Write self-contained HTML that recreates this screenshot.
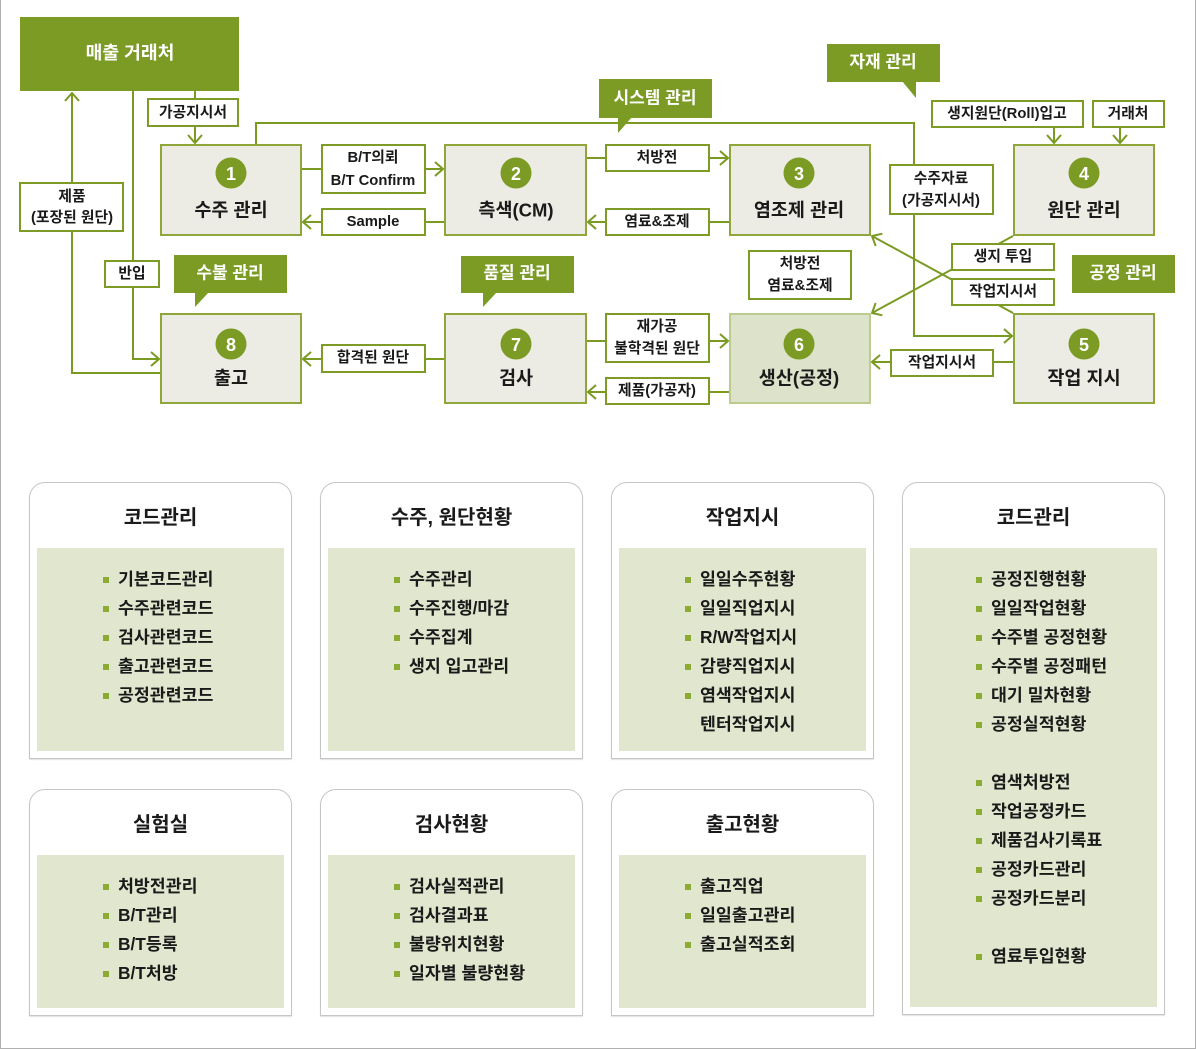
<!DOCTYPE html>
<html><head><meta charset="utf-8">
<style>
*{margin:0;padding:0;box-sizing:border-box}
html,body{width:1196px;height:1049px;background:#fff;overflow:hidden}
body{position:relative;font-family:"Liberation Sans","Noto Sans CJK KR",sans-serif;color:#222}
.frame{position:absolute;left:0;top:0;width:1196px;height:1049px;border-left:1px solid #b0b0b0;border-right:1px solid #b0b0b0;border-bottom:1px solid #b0b0b0}
svg.top{position:absolute;left:0;top:0}
.card{position:absolute;width:263px;border:1px solid #c6c6c6;border-radius:16px 16px 0 0;background:#fff;box-shadow:0 1px 1px #e2e2e2}
.card .t{position:absolute;left:0;top:22px;width:100%;text-align:center;font-size:20px;line-height:26px;font-weight:bold;color:#1a1a1a}
.card .g{position:absolute;left:7px;top:65px;width:247px;bottom:7px;background:#e1e6cf}
.card ul{list-style:none;padding-top:17px}
.card li{position:relative;height:29px;line-height:29px;padding-left:81px;font-size:17.3px;font-weight:bold;color:#1a1a1a;white-space:nowrap}
.card li.b:before{content:"";position:absolute;left:66px;top:12px;width:6px;height:6px;background:#8cab33}
</style></head><body>
<div class="frame"></div>
<svg class="top" width="1196" height="420" viewBox="0 0 1196 420" font-family="Liberation Sans, Noto Sans CJK KR, sans-serif" font-weight="bold">
<defs>
<marker id="a" viewBox="0 0 10 16" refX="9" refY="8" markerWidth="10" markerHeight="16" markerUnits="userSpaceOnUse" orient="auto">
<path d="M1,1 L9,8 L1,15" fill="none" stroke="#7a9a22" stroke-width="2"/>
</marker>
</defs>
<g fill="none" stroke="#7a9a22" stroke-width="2">
<path d="M160,373 L72,373 L72,93" marker-end="url(#a)"/>
<path d="M133,91 L133,359 L159,359" marker-end="url(#a)"/>
<path d="M195,91 L195,143" marker-end="url(#a)"/>
<path d="M256,144 L256,123 L914,123 L914,336 L1012,336" marker-end="url(#a)"/>
<path d="M302,169 L443,169" marker-end="url(#a)"/>
<path d="M444,222 L303,222" marker-end="url(#a)"/>
<path d="M587,158 L728,158" marker-end="url(#a)"/>
<path d="M729,222 L588,222" marker-end="url(#a)"/>
<path d="M587,341 L728,341" marker-end="url(#a)"/>
<path d="M729,392 L588,392" marker-end="url(#a)"/>
<path d="M444,359 L303,359" marker-end="url(#a)"/>
<path d="M1013,362 L872,362" marker-end="url(#a)"/>
<path d="M1013,236 L872,313" marker-end="url(#a)"/>
<path d="M1013,313 L872,236" marker-end="url(#a)"/>
<path d="M1054,128 L1054,143" marker-end="url(#a)"/>
<path d="M1120,128 L1120,143" marker-end="url(#a)"/>
</g>
<!-- callouts -->
<g fill="#7b9b24">
<rect x="20" y="17" width="219" height="74"/>
<rect x="599" y="79" width="113" height="39"/><polygon points="618,117 632,117 618,133"/>
<rect x="827" y="44" width="113" height="38"/><polygon points="902,81 916,81 916,98"/>
<rect x="174" y="255" width="113" height="38"/><polygon points="195,292 209,292 195,307"/>
<rect x="461" y="256" width="113" height="37"/><polygon points="483,292 497,292 483,307"/>
<rect x="1072" y="255" width="103" height="38"/>
</g>
<g fill="#fff" text-anchor="middle" dominant-baseline="central">
<text x="130" y="53" font-size="18.2">매출 거래처</text>
<text x="655" y="98" font-size="17">시스템 관리</text>
<text x="883" y="62" font-size="17">자재 관리</text>
<text x="230" y="273" font-size="17">수불 관리</text>
<text x="517" y="273" font-size="17">품질 관리</text>
<text x="1123" y="273" font-size="17">공정 관리</text>
</g>
<!-- boxes -->
<g fill="#ecebe4" stroke="#8fa63a" stroke-width="2">
<rect x="161" y="145" width="140" height="90"/>
<rect x="445" y="145" width="141" height="90"/>
<rect x="730" y="145" width="140" height="90"/>
<rect x="1014" y="145" width="140" height="90"/>
<rect x="161" y="314" width="140" height="89"/>
<rect x="445" y="314" width="141" height="89"/>
<rect x="1014" y="314" width="140" height="89"/>
</g>
<rect x="730" y="314" width="140" height="89" fill="#dde2cb" stroke="#bccb8e" stroke-width="2"/>
<g fill="#7b9b24">
<circle cx="231" cy="173" r="15.5"/>
<circle cx="516" cy="173" r="15.5"/>
<circle cx="799" cy="173" r="15.5"/>
<circle cx="1084" cy="173" r="15.5"/>
<circle cx="231" cy="344" r="15.5"/>
<circle cx="516" cy="344" r="15.5"/>
<circle cx="799" cy="344" r="15.5"/>
<circle cx="1084" cy="344" r="15.5"/>
</g>
<g fill="#fff" text-anchor="middle" dominant-baseline="central" font-size="18">
<text x="231" y="174">1</text>
<text x="516" y="174">2</text>
<text x="799" y="174">3</text>
<text x="1084" y="174">4</text>
<text x="231" y="345">8</text>
<text x="516" y="345">7</text>
<text x="799" y="345">6</text>
<text x="1084" y="345">5</text>
</g>
<g fill="#1a1a1a" text-anchor="middle" dominant-baseline="central" font-size="18.5">
<text x="231" y="210">수주 관리</text>
<text x="516" y="210">측색(CM)</text>
<text x="799" y="210">염조제 관리</text>
<text x="1084" y="210">원단 관리</text>
<text x="231" y="378">출고</text>
<text x="516" y="378">검사</text>
<text x="799" y="378">생산(공정)</text>
<text x="1084" y="378">작업 지시</text>
</g>
<!-- labels -->
<g fill="#fff" stroke="#7d9b25" stroke-width="2">
<rect x="148" y="99" width="90" height="27"/>
<rect x="20" y="183" width="103" height="48"/>
<rect x="105" y="261" width="54" height="26"/>
<rect x="322" y="145" width="103" height="48"/>
<rect x="322" y="209" width="103" height="26"/>
<rect x="322" y="345" width="103" height="27"/>
<rect x="606" y="145" width="103" height="26"/>
<rect x="606" y="209" width="103" height="26"/>
<rect x="606" y="314" width="103" height="48"/>
<rect x="606" y="378" width="103" height="26"/>
<rect x="749" y="251" width="102" height="48"/>
<rect x="890" y="165" width="103" height="49"/>
<rect x="932" y="101" width="151" height="26"/>
<rect x="1093" y="101" width="71" height="26"/>
<rect x="952" y="244" width="102" height="26"/>
<rect x="952" y="279" width="102" height="26"/>
<rect x="891" y="350" width="102" height="26"/>
</g>
<g fill="#1a1a1a" text-anchor="middle" dominant-baseline="central" font-size="14.8">
<text x="193" y="113">가공지시서</text>
<text x="72" y="197">제품</text>
<text x="72" y="218">(포장된 원단)</text>
<text x="132" y="274">반입</text>
<text x="373" y="158">B/T의뢰</text>
<text x="373" y="181">B/T Confirm</text>
<text x="373" y="222">Sample</text>
<text x="373" y="358">합격된 원단</text>
<text x="657" y="158">처방전</text>
<text x="657" y="222">염료&amp;조제</text>
<text x="657" y="327">재가공</text>
<text x="657" y="349">불학격된 원단</text>
<text x="657" y="391">제품(가공자)</text>
<text x="800" y="264">처방전</text>
<text x="800" y="286">염료&amp;조제</text>
<text x="941" y="179">수주자료</text>
<text x="941" y="201">(가공지시서)</text>
<text x="1007" y="114">생지원단(Roll)입고</text>
<text x="1128" y="114">거래처</text>
<text x="1003" y="257">생지 투입</text>
<text x="1003" y="292">작업지시서</text>
<text x="942" y="363">작업지시서</text>
</g>
</svg>

<div class="card" style="left:29px;top:482px;height:277px">
<div class="t">코드관리</div>
<div class="g"><ul><li class="b">기본코드관리</li><li class="b">수주관련코드</li><li class="b">검사관련코드</li><li class="b">출고관련코드</li><li class="b">공정관련코드</li></ul></div>
</div>
<div class="card" style="left:320px;top:482px;height:277px">
<div class="t">수주, 원단현황</div>
<div class="g"><ul><li class="b">수주관리</li><li class="b">수주진행/마감</li><li class="b">수주집계</li><li class="b">생지 입고관리</li></ul></div>
</div>
<div class="card" style="left:611px;top:482px;height:277px">
<div class="t">작업지시</div>
<div class="g"><ul><li class="b">일일수주현황</li><li class="b">일일직업지시</li><li class="b">R/W작업지시</li><li class="b">감량직업지시</li><li class="b">염색작업지시</li><li>텐터작업지시</li></ul></div>
</div>
<div class="card" style="left:902px;top:482px;height:533px">
<div class="t">코드관리</div>
<div class="g"><ul><li class="b">공정진행현황</li><li class="b">일일작업현황</li><li class="b">수주별 공정현황</li><li class="b">수주별 공정패턴</li><li class="b">대기 밀차현황</li><li class="b">공정실적현황</li><li></li><li class="b">염색처방전</li><li class="b">작업공정카드</li><li class="b">제품검사기록표</li><li class="b">공정카드관리</li><li class="b">공정카드분리</li><li></li><li class="b">염료투입현황</li></ul></div>
</div>
<div class="card" style="left:29px;top:789px;height:227px">
<div class="t">실험실</div>
<div class="g"><ul><li class="b">처방전관리</li><li class="b">B/T관리</li><li class="b">B/T등록</li><li class="b">B/T처방</li></ul></div>
</div>
<div class="card" style="left:320px;top:789px;height:227px">
<div class="t">검사현황</div>
<div class="g"><ul><li class="b">검사실적관리</li><li class="b">검사결과표</li><li class="b">불량위치현황</li><li class="b">일자별 불량현황</li></ul></div>
</div>
<div class="card" style="left:611px;top:789px;height:227px">
<div class="t">출고현황</div>
<div class="g"><ul><li class="b">출고직업</li><li class="b">일일출고관리</li><li class="b">출고실적조회</li></ul></div>
</div>
</body></html>
